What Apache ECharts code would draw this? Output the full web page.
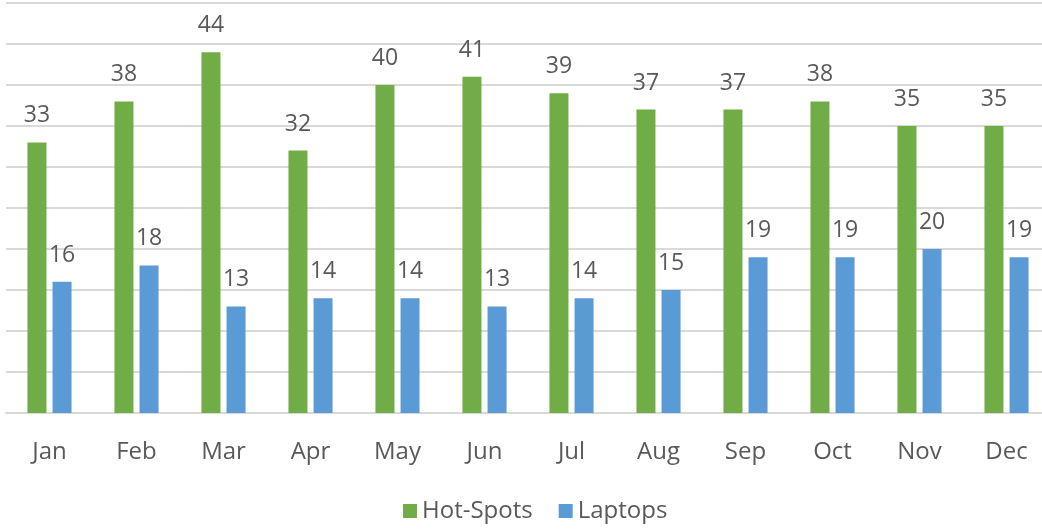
<!DOCTYPE html>
<html>
<head>
<meta charset="utf-8">
<script src="https://cdn.jsdelivr.net/npm/echarts@6/dist/echarts.min.js"></script>
<style>
  html, body { margin: 0; padding: 0; background: #fff; overflow: hidden; }
  #chart { width: 1050px; height: 529px; }
</style>
</head>
<body>
<div id="chart"></div>
<script>
var months = ['Jan', 'Feb', 'Mar', 'Apr', 'May', 'Jun', 'Jul', 'Aug', 'Sep', 'Oct', 'Nov', 'Dec']
var hotSpots = [33, 38, 44, 32, 40, 41, 39, 37, 37, 38, 35, 35]
var laptops = [16, 18, 13, 14, 14, 13, 14, 15, 19, 19, 20, 19]

var font = '"Open Sans", sans-serif'
var labelStyle = { show: true, position: 'top', distance: 15, color: '#595959', fontSize: 23, fontFamily: font }

// the plot runs a bit past the right edge, so the div is wider than the window
var myChart = echarts.init(document.getElementById('chart'))
myChart.setOption({
  animation: false,
  grid: { left: 6, top: 3, right: 0, bottom: 116 },
  legend: {
    bottom: 1,
    left: 398,
    itemWidth: 14,
    itemHeight: 14,
    itemGap: 26,
    icon: 'rect',
    textStyle: { color: '#595959', fontSize: 24, fontFamily: font },
    data: ['Hot-Spots', 'Laptops']
  },
  xAxis: {
    type: 'category',
    data: months,
    axisTick: { show: false },
    axisLine: { lineStyle: { color: '#d9d9d9', width: 2 } },
    axisLabel: { color: '#595959', fontSize: 24, fontFamily: font, margin: 27 }
  },
  yAxis: {
    type: 'value',
    min: 0,
    max: 50,
    interval: 5,
    axisLabel: { show: false },
    axisLine: { show: false },
    axisTick: { show: false },
    splitLine: { lineStyle: { color: '#d9d9d9', width: 2 } }
  },
  series: [
    {
      name: 'Hot-Spots',
      type: 'bar',
      data: hotSpots,
      barWidth: 19,
      barGap: '32%',
      itemStyle: { color: '#70ad47' },
      label: labelStyle
    },
    {
      name: 'Laptops',
      type: 'bar',
      data: laptops,
      barWidth: 19,
      itemStyle: { color: '#5b9bd5' },
      label: labelStyle
    }
  ]
})
</script>
</body>
</html>
